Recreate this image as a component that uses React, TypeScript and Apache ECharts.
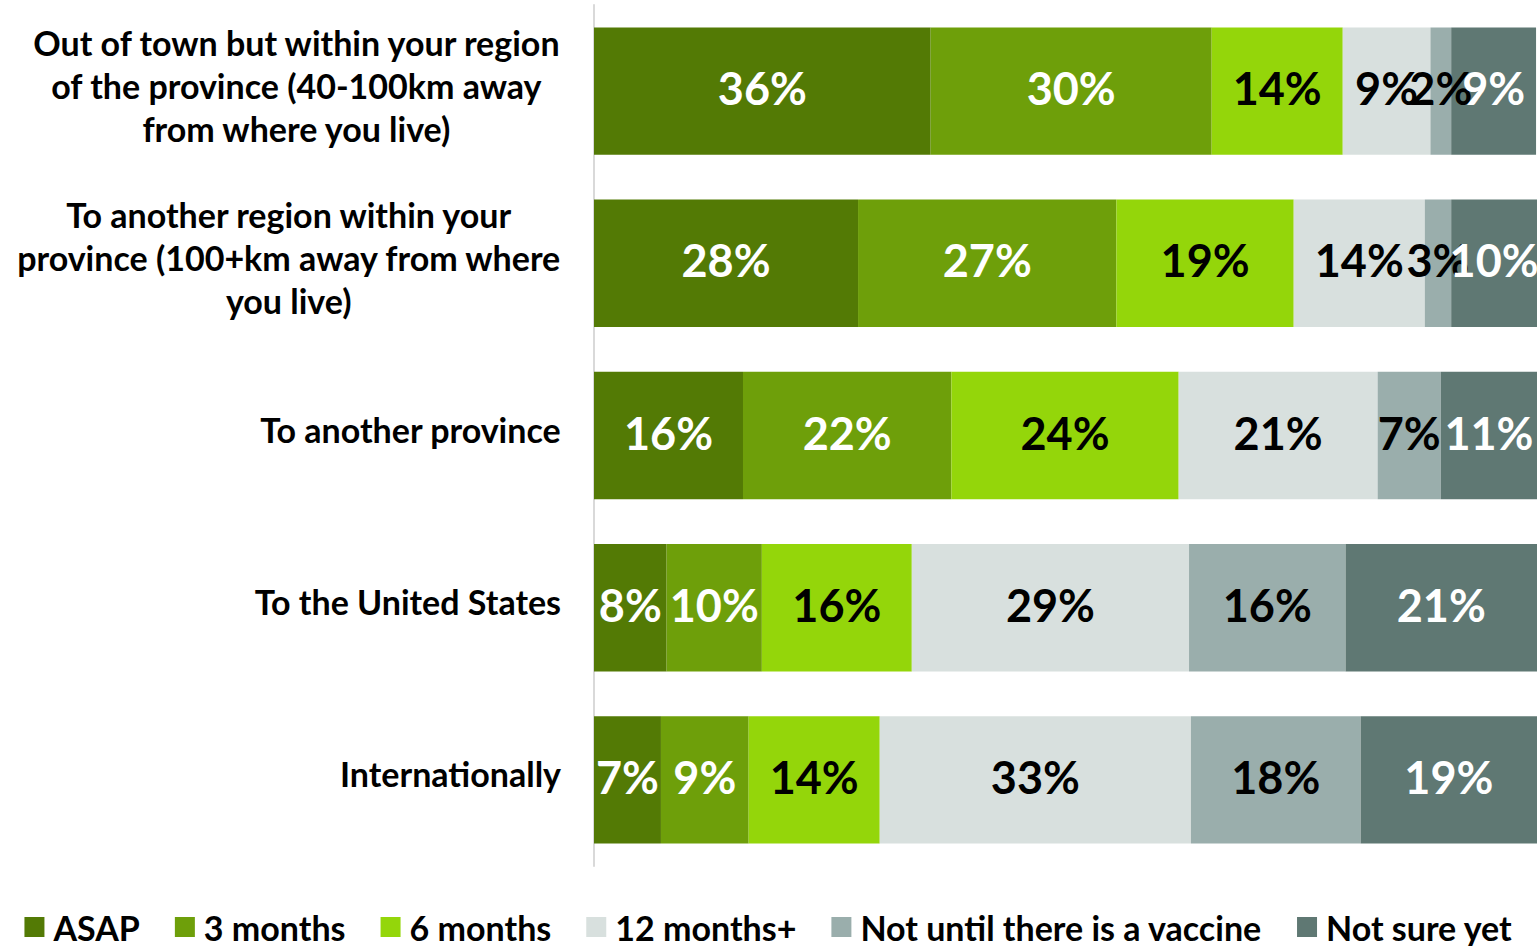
import React, { useEffect, useRef } from "react";
import * as echarts from "echarts";

const categories = [
  "Out of town but within your region\nof the province (40-100km away\nfrom where you live)",
  "To another region within your\nprovince (100+km away from where\nyou live)",
  "To another province",
  "To the United States",
  "Internationally",
];

const seriesNames = ["ASAP", "3 months", "6 months", "12 months+", "Not until there is a vaccine", "Not sure yet"];
const colors = ["#537A05", "#6E9F0A", "#94D60A", "#D8E0DE", "#9AAEAC", "#5F7873"];
const labelColors = ["#ffffff", "#ffffff", "#000000", "#000000", "#000000", "#ffffff"];

// values per series, rows in category order
const asap = [35.7, 28.0, 15.8, 7.7, 7.1];
const months3 = [29.8, 27.4, 22.1, 10.1, 9.3];
const months6 = [13.9, 18.8, 24.1, 15.9, 13.9];
const months12 = [9.3, 13.9, 21.1, 29.4, 33.0];
const vaccine = [2.2, 2.8, 6.7, 16.6, 18.0];
const notSure = [9.0, 9.6, 10.5, 20.6, 18.7];

// displayed labels
const asapLbl = ["36%", "28%", "16%", "8%", "7%"];
const months3Lbl = ["30%", "27%", "22%", "10%", "9%"];
const months6Lbl = ["14%", "19%", "24%", "16%", "14%"];
const months12Lbl = ["9%", "14%", "21%", "29%", "33%"];
const vaccineLbl = ["2%", "3%", "7%", "16%", "18%"];
const notSureLbl = ["9%", "10%", "11%", "21%", "19%"];

const allValues = [asap, months3, months6, months12, vaccine, notSure];
const allLabels = [asapLbl, months3Lbl, months6Lbl, months12Lbl, vaccineLbl, notSureLbl];

const FONT = "Lato";

export default function App() {
  const ref = useRef<HTMLDivElement>(null);
  useEffect(() => {
    if (!ref.current) return;
    const chart = echarts.init(ref.current, null, { renderer: "svg" });
    chart.setOption({
      animation: false,
      grid: { left: 594, right: 0, top: 5, bottom: 80, containLabel: false },
      legend: {
        bottom: -3,
        left: "center",
        itemWidth: 20,
        itemHeight: 20,
        itemGap: 35,
        icon: "rect",
        textStyle: { fontFamily: FONT, fontWeight: "bold", fontSize: 34, color: "#000", padding: [0, 0, 0, 4] },
        data: seriesNames,
      },
      xAxis: {
        type: "value",
        min: 0,
        max: 100,
        show: false,
      },
      yAxis: {
        type: "category",
        inverse: true,
        data: categories,
        axisLine: { show: true, lineStyle: { color: "#d9d9d9", width: 2 } },
        axisTick: { show: false },
        axisLabel: {
          margin: 33,
          align: "right",
          padding: [0, 0, 12, 0],
          formatter: (v: string) =>
            v
              .split("\n")
              .map((l) => `{c|${l}}`)
              .join("\n"),
          rich: {
            c: {
              align: "center",
              fontFamily: FONT,
              fontWeight: "bold",
              fontSize: 34,
              lineHeight: 43,
              color: "#000",
            },
          },
        },
      },
      series: seriesNames.map((name, i) => ({
        name,
        type: "bar",
        stack: "total",
        barCategoryGap: "26%",
        clip: true,
        itemStyle: { color: colors[i] },
        label: {
          show: true,
          position: "inside",
          offset: [0, -3],
          fontFamily: FONT,
          fontWeight: "bold",
          fontSize: 45,
          color: labelColors[i],
          formatter: (p: any) => allLabels[i][p.dataIndex],
        },
        data: allValues[i],
      })),
    });
    return () => chart.dispose();
  }, []);
  return (
    <div
      ref={ref}
      style={{ position: "absolute", left: 0, top: 0, width: 1537, height: 946 }}
    />
  );
}
